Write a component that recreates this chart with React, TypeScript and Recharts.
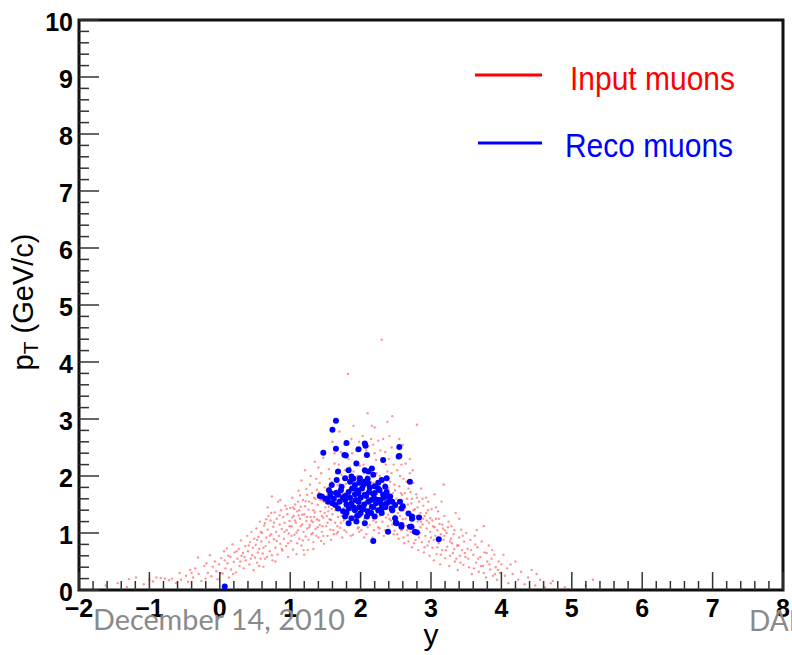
import { ScatterChart, Scatter, XAxis, YAxis, ReferenceArea, Legend } from "recharts"

// generated muons: [rapidity y, pT (GeV/c)]
const inputMuons: [number, number][] = [
  [-1.62, 0.08], [-1.45, 0.12], [-1.32, 0.05], [-1.29, 0.19], [-1.19, 0.22], [-1.08, 0.1], [-0.95, 0.15], [-0.9, 0.22],
  [-0.84, 0.21], [-0.78, 0.2], [-0.72, 0.17], [-0.68, 0.2], [-0.62, 0.12], [-0.57, 0.3], [-0.55, 0.18],
  [-0.48, 0.25], [-0.45, 0.14], [-0.42, 0.35], [-0.38, 0.22], [-0.35, 0.38], [-0.31, 0.57], [-0.3, 0.28], [-0.26, 0.16],
  [-0.22, 0.42], [-0.19, 0.47], [-0.17, 0.3], [-0.14, 0.61], [-0.12, 0.24], [-0.1, 0.41], [-0.07, 0.5], [-0.05, 0.33],
  [-0.03, 0.19], [-0.01, 0.45],
  [0.02, 0.56], [0.04, 0.29], [0.06, 0.68], [0.08, 0.38], [0.1, 0.73], [0.11, 0.47], [0.13, 0.22], [0.15, 0.58],
  [0.16, 0.36], [0.18, 0.8], [0.2, 0.49], [0.21, 0.66], [0.23, 0.31], [0.25, 0.55], [0.27, 0.72], [0.28, 0.42],
  [0.3, 0.87], [0.31, 0.6], [0.33, 0.65], [0.34, 0.38], [0.36, 0.77], [0.37, 0.52], [0.39, 0.95], [0.4, 0.68],
  [0.42, 0.45], [0.43, 0.84], [0.45, 1.02], [0.46, 0.61], [0.47, 0.74], [0.48, 0.35], [0.49, 0.9], [0.5, 0.57],
  [0.51, 0.79], [0.52, 1.08], [0.53, 0.48], [0.54, 0.66], [0.55, 0.93], [0.56, 0.72], [0.57, 1.2], [0.58, 0.55],
  [0.59, 0.85], [0.6, 1.0], [0.61, 0.64], [0.62, 0.41], [0.63, 1.13], [0.64, 1.17], [0.65, 0.77], [0.66, 0.92],
  [0.67, 0.58], [0.68, 1.06], [0.69, 1.3], [0.7, 0.84], [0.71, 0.68], [0.72, 1.22], [0.73, 0.98], [0.74, 1.64],
  [0.75, 0.52], [0.76, 1.11], [0.77, 0.89], [0.78, 1.36], [0.79, 0.74], [0.8, 1.02], [0.81, 1.25], [0.82, 0.62],
  [0.83, 1.55], [0.84, 0.95], [0.85, 1.15], [0.86, 0.81], [0.87, 1.4], [0.88, 1.07], [0.89, 0.69], [0.9, 1.28],
  [0.91, 0.9], [0.92, 1.18], [0.93, 1.48], [0.94, 0.77], [0.95, 1.05], [0.96, 1.33], [0.97, 0.58], [0.98, 0.99],
  [0.99, 1.21], [1.0, 1.44],
  [1.01, 0.86], [1.02, 1.12], [1.03, 1.62], [1.04, 0.71], [1.05, 1.3], [1.06, 0.97], [1.07, 1.5], [1.08, 1.18],
  [1.09, 0.63], [1.1, 1.38], [1.11, 1.05], [1.12, 1.74], [1.13, 0.9], [1.14, 1.25], [1.15, 1.46], [1.16, 0.78],
  [1.17, 1.15], [1.18, 1.58], [1.19, 1.02], [1.2, 1.33], [1.21, 2.1], [1.22, 0.94], [1.23, 1.21], [1.24, 1.67],
  [1.25, 0.7], [1.26, 1.41], [1.27, 1.1], [1.28, 1.85], [1.29, 1.28], [1.3, 0.98], [1.31, 1.52], [1.32, 1.19],
  [1.33, 0.84], [1.34, 1.62], [1.35, 1.36], [1.36, 1.07], [1.37, 1.95], [1.38, 1.24], [1.39, 1.49], [1.4, 0.92],
  [1.41, 1.71], [1.42, 1.14], [1.43, 1.38], [1.44, 2.05], [1.45, 1.02], [1.46, 1.57], [1.47, 1.27], [1.48, 0.81],
  [1.49, 1.8], [1.5, 1.45],
  [1.03, 1.27], [1.06, 1.42], [1.09, 1.01], [1.12, 1.31], [1.15, 1.12], [1.18, 0.87], [1.21, 1.47], [1.24, 1.08],
  [1.27, 1.55], [1.3, 1.22], [1.33, 1.4], [1.36, 1.6], [1.39, 1.1], [1.42, 1.88], [1.45, 1.3], [1.48, 1.55],
  [1.11, 1.55], [1.23, 1.77], [1.35, 2.25], [1.47, 2.32],
  [1.51, 1.12], [1.52, 1.66], [1.53, 0.95], [1.54, 1.38], [1.55, 2.12], [1.56, 1.24], [1.57, 1.52], [1.58, 0.88],
  [1.59, 1.9], [1.6, 1.33], [1.61, 1.05], [1.62, 1.72], [1.63, 2.4], [1.64, 1.18], [1.65, 1.47], [1.66, 0.99],
  [1.67, 1.84], [1.68, 1.28], [1.69, 2.2], [1.7, 1.61], [1.71, 1.09], [1.72, 1.4], [1.73, 2.02], [1.74, 0.92],
  [1.75, 1.55], [1.76, 1.22], [1.77, 2.55], [1.78, 1.7], [1.79, 1.34], [1.8, 1.02], [1.81, 1.95], [1.82, 1.46],
  [1.83, 2.3], [1.84, 1.15], [1.85, 1.78], [1.86, 1.27], [1.87, 2.65], [1.88, 1.58], [1.89, 0.97], [1.9, 2.08],
  [1.91, 1.39], [1.92, 1.8], [1.93, 1.2], [1.94, 2.45], [1.95, 1.52], [1.96, 1.08], [1.97, 1.92], [1.98, 1.33],
  [1.99, 2.18], [2.0, 1.62],
  [1.52, 1.3], [1.55, 1.46], [1.58, 1.23], [1.61, 1.6], [1.64, 1.4], [1.67, 1.12], [1.7, 1.86], [1.73, 1.3],
  [1.76, 1.44], [1.79, 1.86], [1.82, 1.18], [1.85, 1.5], [1.88, 1.25], [1.91, 1.66], [1.94, 1.42], [1.97, 1.1],
  [1.6, 2.6], [1.7, 2.78], [1.82, 3.79], [1.9, 2.88], [1.55, 1.8], [1.75, 1.95], [1.85, 2.15], [1.95, 2.0], [1.65, 2.05],
  [2.01, 1.05], [2.02, 1.45], [2.03, 2.7], [2.04, 1.82], [2.05, 1.25], [2.06, 2.35], [2.07, 1.56], [2.08, 0.98],
  [2.09, 1.99], [2.1, 1.36], [2.11, 2.52], [2.12, 1.7], [2.13, 1.14], [2.14, 2.15], [2.15, 1.5], [2.16, 2.88],
  [2.17, 1.28], [2.18, 1.88], [2.19, 1.05], [2.2, 2.4], [2.21, 1.63], [2.22, 1.19], [2.23, 2.05], [2.24, 1.42],
  [2.25, 2.62], [2.26, 1.74], [2.27, 1.08], [2.28, 1.95], [2.29, 1.33], [2.3, 4.39], [2.31, 2.25], [2.32, 1.55],
  [2.33, 0.95], [2.34, 1.86], [2.35, 2.42], [2.36, 1.27], [2.37, 1.66], [2.38, 2.08], [2.39, 1.12], [2.4, 1.48],
  [2.41, 2.7], [2.42, 1.9], [2.43, 1.22], [2.44, 1.6], [2.45, 3.05], [2.46, 1.38], [2.47, 2.2], [2.48, 1.04],
  [2.49, 1.75], [2.5, 1.45],
  [2.03, 1.6], [2.06, 1.15], [2.09, 1.72], [2.12, 1.42], [2.15, 1.9], [2.18, 1.22], [2.21, 1.48], [2.24, 1.9],
  [2.27, 1.3], [2.3, 1.7], [2.33, 1.45], [2.36, 1.95], [2.39, 1.32], [2.42, 1.55], [2.45, 1.15], [2.48, 1.85],
  [2.1, 3.1], [2.2, 2.85], [2.38, 2.95], [2.05, 2.05], [2.28, 2.45], [2.4, 2.3], [2.15, 2.65], [2.25, 1.1], [2.35, 1.05],
  [2.51, 1.15], [2.52, 2.1], [2.53, 1.56], [2.54, 0.9], [2.55, 1.82], [2.56, 1.3], [2.57, 2.38], [2.58, 1.05],
  [2.59, 1.67], [2.6, 1.24], [2.61, 1.95], [2.62, 0.82], [2.63, 1.44], [2.64, 2.22], [2.65, 1.13], [2.66, 1.6],
  [2.67, 0.96], [2.68, 1.78], [2.69, 1.35], [2.7, 2.05], [2.71, 1.02], [2.72, 1.52], [2.73, 0.75], [2.74, 1.26],
  [2.75, 1.88], [2.76, 1.1], [2.77, 1.42], [2.78, 0.88], [2.79, 1.68], [2.8, 2.9], [2.81, 1.2], [2.82, 0.7],
  [2.83, 1.55], [2.84, 1.0], [2.85, 1.35], [2.86, 1.78], [2.87, 0.84], [2.88, 1.15], [2.89, 1.48], [2.9, 0.66],
  [2.91, 1.3], [2.92, 0.95], [2.93, 1.62], [2.94, 1.08], [2.95, 0.78], [2.96, 1.4], [2.97, 1.18], [2.98, 0.6],
  [2.99, 1.26], [3.0, 0.92],
  [2.53, 1.35], [2.57, 1.7], [2.61, 1.4], [2.65, 1.9], [2.69, 1.1], [2.73, 1.6], [2.77, 1.25], [2.81, 1.45],
  [2.85, 1.1], [2.89, 1.25], [2.93, 1.35], [2.97, 0.85], [2.6, 2.55], [2.7, 2.3], [2.55, 2.65],
  [3.01, 1.42], [3.02, 0.74], [3.03, 1.12], [3.04, 0.52], [3.05, 1.68], [3.06, 0.95], [3.07, 1.25], [3.08, 0.63],
  [3.09, 1.05], [3.1, 1.38], [3.11, 0.82], [3.12, 1.16], [3.13, 0.45], [3.14, 0.98], [3.15, 1.55], [3.16, 0.7],
  [3.17, 1.08], [3.18, 0.88], [3.19, 1.3], [3.2, 0.56], [3.22, 1.0], [3.23, 0.76], [3.25, 1.2], [3.26, 0.42],
  [3.28, 0.9], [3.29, 1.12], [3.31, 0.65], [3.32, 0.98], [3.34, 0.5], [3.35, 1.35], [3.37, 0.78], [3.38, 0.35],
  [3.4, 0.92], [3.41, 0.6], [3.43, 1.06], [3.44, 0.7], [3.46, 0.44], [3.47, 0.85], [3.49, 0.58], [3.5, 1.0],
  [3.05, 1.1], [3.12, 0.9], [3.2, 1.05], [3.27, 0.85], [3.33, 0.72], [3.4, 1.25], [3.18, 1.85],
  [3.52, 0.72], [3.54, 0.4], [3.56, 0.88], [3.58, 0.28], [3.6, 0.62], [3.62, 0.95], [3.64, 0.48], [3.66, 0.75],
  [3.68, 0.32], [3.7, 0.58], [3.72, 0.85], [3.74, 0.42], [3.76, 0.66], [3.78, 0.22], [3.8, 0.5], [3.82, 0.78],
  [3.84, 0.36], [3.86, 0.55], [3.88, 0.25], [3.9, 0.62], [3.92, 0.4], [3.94, 0.18], [3.96, 0.5], [3.98, 0.3],
  [4.0, 0.45], [3.65, 1.05], [3.75, 1.12],
  [4.03, 0.62], [4.05, 0.25], [4.08, 0.38], [4.1, 0.12], [4.13, 0.45], [4.16, 0.28], [4.2, 0.5], [4.24, 0.18],
  [4.28, 0.32], [4.33, 0.1], [4.38, 0.22], [4.43, 0.35], [4.48, 0.08], [4.55, 0.18], [4.62, 0.05], [4.7, 0.12],
  [4.9, 0.05], [5.2, 0.08], [4.5, 0.28], [5.3, 0.18], [4.73, 0.16],
  // second, denser pass through the bulk of the distribution
  [0.53, 0.88], [0.58, 1.02], [0.62, 0.74], [0.66, 1.24], [0.71, 0.95], [0.74, 0.61], [0.77, 1.18], [0.81, 0.86],
  [0.85, 1.31], [0.88, 0.72], [0.92, 1.02], [0.95, 1.42], [0.97, 0.82], [0.99, 1.12], [0.56, 0.42], [0.64, 0.55],
  [0.79, 0.5], [0.86, 1.58], [0.68, 1.45], [0.73, 1.35],
  [1.02, 0.95], [1.04, 1.45], [1.07, 1.22], [1.1, 0.82], [1.13, 1.4], [1.14, 1.66], [1.17, 1.32], [1.19, 0.7],
  [1.22, 1.56], [1.24, 1.28], [1.26, 0.88], [1.28, 1.14], [1.31, 1.7], [1.32, 1.0], [1.34, 1.28], [1.37, 0.95],
  [1.38, 1.76], [1.41, 1.22], [1.43, 1.58], [1.44, 0.86], [1.46, 1.12], [1.49, 1.35], [1.16, 1.92], [1.29, 2.0],
  [1.4, 2.15], [1.2, 0.62], [1.33, 0.72], [1.47, 0.95],
  [1.51, 1.52], [1.53, 1.18], [1.56, 1.95], [1.57, 1.06], [1.59, 1.42], [1.62, 0.98], [1.63, 1.55], [1.66, 1.75],
  [1.68, 1.02], [1.69, 1.5], [1.72, 1.18], [1.74, 1.68], [1.77, 1.05], [1.78, 2.1], [1.81, 1.3], [1.83, 1.62],
  [1.86, 0.95], [1.87, 1.4], [1.89, 1.92], [1.92, 1.28], [1.93, 2.25], [1.96, 1.65], [1.98, 1.02], [1.99, 1.5],
  [1.63, 2.22], [1.72, 2.42], [1.88, 2.4], [1.98, 2.6],
  [2.01, 1.3], [2.04, 2.2], [2.05, 0.92], [2.07, 1.85], [2.1, 1.1], [2.11, 1.6], [2.14, 1.32], [2.16, 2.05],
  [2.17, 0.92], [2.19, 1.7], [2.22, 2.28], [2.23, 1.35], [2.26, 1.0], [2.27, 2.0], [2.29, 1.58], [2.31, 1.2],
  [2.34, 1.65], [2.36, 2.2], [2.37, 1.02], [2.4, 1.78], [2.41, 1.25], [2.44, 2.05], [2.46, 1.7], [2.47, 0.98],
  [2.49, 1.3], [2.08, 2.45], [2.18, 2.55], [2.32, 2.65], [2.44, 2.5],
  [2.51, 1.6], [2.52, 0.98], [2.54, 1.45], [2.56, 2.0], [2.59, 1.15], [2.61, 0.92], [2.63, 1.7], [2.64, 1.25],
  [2.67, 1.5], [2.68, 0.85], [2.71, 1.72], [2.72, 1.15], [2.75, 1.4], [2.76, 0.82], [2.79, 1.3], [2.8, 1.62],
  [2.83, 0.92], [2.86, 1.2], [2.88, 1.6], [2.91, 0.75], [2.94, 1.22], [2.96, 1.55], [2.99, 1.02], [2.58, 2.2],
  [2.74, 2.1], [2.66, 1.05],
  [3.02, 1.22], [3.04, 0.88], [3.07, 1.45], [3.09, 0.75], [3.11, 1.25], [3.14, 0.62], [3.16, 1.15], [3.19, 0.95],
  [3.21, 0.7], [3.24, 1.1], [3.27, 0.6], [3.3, 0.82], [3.33, 1.05], [3.36, 0.55], [3.39, 0.78], [3.42, 0.48],
  [3.45, 0.95], [3.48, 0.65],
  [3.53, 0.55], [3.57, 0.7], [3.61, 0.38], [3.63, 0.8], [3.67, 0.55], [3.71, 0.42], [3.75, 0.3], [3.79, 0.65],
  [3.83, 0.45], [3.87, 0.7], [3.91, 0.28], [3.95, 0.35],
  [0.01, 0.3], [0.07, 0.52], [0.12, 0.6], [0.19, 0.28], [0.24, 0.68], [0.29, 0.5], [0.35, 0.58], [0.41, 0.78],
  [0.44, 0.55], [-0.2, 0.2], [-0.4, 0.3], [-1.0, 0.18],
]

// reconstructed muons: [rapidity y, pT (GeV/c)]
const recoMuons: [number, number][] = [
  [0.07, 0.06],
  [1.65, 2.97], [1.6, 2.81], [1.47, 2.41], [1.8, 2.58], [1.65, 2.48], [1.79, 2.36], [1.97, 2.47], [2.06, 2.57],
  [2.07, 2.53], [2.55, 2.51], [2.55, 2.35], [2.83, 1.27], [2.8, 1.01], [3.11, 0.89], [2.72, 1.11], [2.58, 1.11],
  [2.5, 1.18], [2.6, 1.47], [2.73, 1.25],
  [1.77, 2.37], [2.09, 2.37], [2.54, 2.34], [2.32, 2.28], [1.94, 2.22], [1.68, 2.08], [1.83, 2.1], [2.06, 2.1],
  [2.16, 2.13], [2.11, 2.08], [1.66, 1.93], [1.78, 1.96], [1.87, 1.99], [1.99, 1.96], [2.18, 2.02], [2.3, 1.93],
  [2.37, 1.96], [2.7, 1.9], [1.59, 1.84], [1.73, 1.81], [1.92, 1.84], [2.04, 1.84], [2.11, 1.87], [2.25, 1.78],
  [2.35, 1.81], [2.37, 1.72], [1.45, 1.64], [1.57, 1.7], [1.68, 1.67], [1.83, 1.72], [1.97, 1.7], [2.06, 1.67],
  [2.2, 1.7], [2.32, 1.67], [2.42, 1.64], [1.54, 1.55], [1.64, 1.49], [1.78, 1.58], [1.87, 1.52], [1.97, 1.55],
  [2.11, 1.55], [2.25, 1.58], [2.37, 1.52], [2.49, 1.49], [2.56, 1.55], [1.68, 1.43], [1.83, 1.43], [1.92, 1.4],
  [2.02, 1.43], [2.16, 1.46], [2.3, 1.43], [2.44, 1.43], [2.58, 1.43], [2.68, 1.34], [1.78, 1.29], [1.87, 1.26],
  [1.97, 1.31], [2.09, 1.29], [2.2, 1.29], [2.49, 1.26], [2.73, 1.29], [1.83, 1.17], [2.06, 1.17], [1.94, 1.2],
  [2.51, 1.17], [2.58, 1.14], [2.7, 1.11], [2.39, 1.02], [2.77, 1.02], [2.18, 0.86],
  [1.42, 1.65], [1.57, 1.64], [1.5, 1.6], [1.55, 1.75], [1.6, 1.52],
  [1.72, 1.75], [1.75, 1.62], [1.8, 1.5], [1.85, 1.62], [1.88, 1.78], [1.9, 1.45], [1.93, 1.58], [1.95, 1.75],
  [1.98, 1.45], [2.0, 1.62], [2.02, 1.78], [2.05, 1.5], [2.08, 1.65], [2.1, 1.38], [2.13, 1.8], [2.15, 1.58],
  [2.18, 1.45], [2.2, 1.6], [2.22, 1.52], [2.25, 1.4], [2.28, 1.58], [2.3, 1.5], [2.33, 1.62], [2.35, 1.45],
  [2.4, 1.55], [1.7, 1.55], [1.75, 1.38], [1.8, 1.35], [1.85, 1.9], [1.9, 1.95], [1.95, 1.3], [2.0, 1.35],
  [2.05, 1.9], [2.1, 1.95], [2.15, 1.35], [2.2, 1.82], [2.25, 1.88], [2.3, 1.35], [1.65, 1.7], [1.62, 1.6],
  [1.92, 1.68], [2.12, 1.72], [2.18, 1.68], [1.98, 1.88], [1.78, 1.65], [2.04, 1.42], [2.27, 1.75], [2.38, 1.65],
  [2.45, 1.55], [2.45, 1.4],
]

const xMajorTicks = [-2, -1, 0, 1, 2, 3, 4, 5, 6, 7, 8]
const yMajorTicks = [0, 1, 2, 3, 4, 5, 6, 7, 8, 9, 10]

const RED = "#ff0000"
const BLUE = "#0000ff"
const TICK_FONT = "'Liberation Sans', Arial, sans-serif"

// 4 minor divisions between each pair of major ticks, ROOT style
const withMinor = (majors: number[]) => {
  const out: number[] = []
  majors.forEach((m, i) => {
    out.push(m)
    if (i < majors.length - 1) {
      const step = (majors[i + 1] - m) / 5
      for (let k = 1; k < 5; k++) out.push(+(m + k * step).toFixed(3))
    }
  })
  return out
}

const isMajor = (v: number) => Math.abs(v - Math.round(v)) < 1e-6
const fmt = (v: number) => (v < 0 ? `\u2212${-v}` : `${v}`)

const XTick = (props: any) => {
  const { x, y, payload } = props
  const major = isMajor(payload.value)
  return (
    <g>
      <line x1={x} x2={x} y1={y} y2={y - (major ? 18 : 9)} stroke="#333" strokeWidth={1.5} />
      {major && (
        <text x={x} y={y + 27} textAnchor="middle" fontSize={25} fontWeight="bold" fontFamily={TICK_FONT} fill="#000">
          {fmt(payload.value)}
        </text>
      )}
    </g>
  )
}

const YTick = (props: any) => {
  const { x, y, payload } = props
  const major = isMajor(payload.value)
  return (
    <g>
      <line x1={x} x2={x + (major ? 20 : 10)} y1={y} y2={y} stroke="#333" strokeWidth={1.5} />
      {major && (
        <text x={x - 6} y={y + 11} textAnchor="end" fontSize={25} fontWeight="bold" fontFamily={TICK_FONT} fill="#000">
          {payload.value}
        </text>
      )}
    </g>
  )
}

const legendRows = [
  { lineX: 475, lineY: 75, textX: 570, baseline: 90, textWidth: 165 },
  { lineX: 478, lineY: 143, textX: 565, baseline: 157, textWidth: 168 },
]

const renderLegend = ({ payload }: any) => (
  <svg width={792} height={200}>
    {(payload ?? []).map((entry: any, i: number) => {
      const row = legendRows[i]
      return (
        <g key={entry.value}>
          <line x1={row.lineX} x2={542} y1={row.lineY} y2={row.lineY} stroke={entry.color} strokeWidth={3} />
          <text
            x={row.textX}
            y={row.baseline}
            fontSize={33}
            fontFamily={TICK_FONT}
            fill={entry.color}
            textLength={row.textWidth}
            lengthAdjust="spacingAndGlyphs"
          >
            {entry.value}
          </text>
        </g>
      )
    })}
  </svg>
)

const dot = (r: number, fill: string, opacity: number) => (p: any) =>
  <circle cx={p.cx} cy={p.cy} r={r} fill={fill} fillOpacity={opacity} />

export default function App() {
  const inputData = inputMuons.map(([y, pt]) => ({ y, pt }))
  const recoData = recoMuons.map(([y, pt]) => ({ y, pt }))

  return (
    <div style={{ position: "absolute", left: 0, top: 0, width: 792, height: 655, overflow: "hidden", background: "#fff" }}>
      <ScatterChart width={792} height={655} margin={{ top: 20, right: 9, bottom: 0, left: 0 }}>
        <XAxis
          type="number"
          dataKey="y"
          domain={[-2, 8]}
          ticks={withMinor(xMajorTicks)}
          interval={0}
          height={65}
          axisLine={false}
          tickLine={false}
          tickSize={0}
          tickMargin={0}
          tick={<XTick />}
          allowDataOverflow
          label={(p: any) => {
            const vb = p.viewBox ?? { x: 79, y: 590, width: 704 }
            return (
              <text x={vb.x + vb.width / 2} y={vb.y + 55} textAnchor="middle" fontSize={30} fontFamily={TICK_FONT}>
                y
              </text>
            )
          }}
        />
        <YAxis
          type="number"
          dataKey="pt"
          domain={[0, 10]}
          ticks={withMinor(yMajorTicks)}
          interval={0}
          width={79}
          axisLine={false}
          tickLine={false}
          tickSize={0}
          tickMargin={0}
          tick={<YTick />}
          allowDataOverflow
          label={(p: any) => {
            const vb = p.viewBox ?? { x: 0, y: 20, height: 570 }
            const cx = vb.x + 33
            const cy = vb.y + vb.height / 2 - 3
            return (
              <text x={cx} y={cy} transform={`rotate(-90, ${cx}, ${cy})`} textAnchor="middle" fontSize={29} fontFamily={TICK_FONT}>
                <tspan>p</tspan>
                <tspan fontSize={21} dy={5}>T</tspan>
                <tspan dy={-5}> (GeV/c)</tspan>
              </text>
            )
          }}
        />
        <Scatter
          name="Input muons"
          data={inputData}
          fill={RED}
          legendType="line"
          isAnimationActive={false}
          shape={dot(1.2, RED, 0.42)}
        />
        <Scatter
          name="Reco muons"
          data={recoData}
          fill={BLUE}
          legendType="line"
          isAnimationActive={false}
          shape={dot(3, BLUE, 1)}
        />
        <ReferenceArea x1={-2} x2={8} y1={0} y2={10} fill="none" stroke="#111" strokeWidth={3} ifOverflow="visible" />
        <Legend
          layout="horizontal"
          verticalAlign="middle"
          align="center"
          content={renderLegend}
          wrapperStyle={{ left: 0, top: 0, width: 792, height: 200 }}
        />
      </ScatterChart>
      <svg width={792} height={655} style={{ position: "absolute", left: 0, top: 0, pointerEvents: "none" }}>
        <text x={93} y={630} fontSize={28} fontFamily="Lato, 'Open Sans', sans-serif" fill="#8a8a8a" textLength={252} lengthAdjust="spacingAndGlyphs">
          December 14, 2010
        </text>
        <text x={749} y={631} fontSize={28} fontFamily="Lato, 'Open Sans', sans-serif" fill="#8a8a8a">
          DAE
        </text>
      </svg>
    </div>
  )
}
